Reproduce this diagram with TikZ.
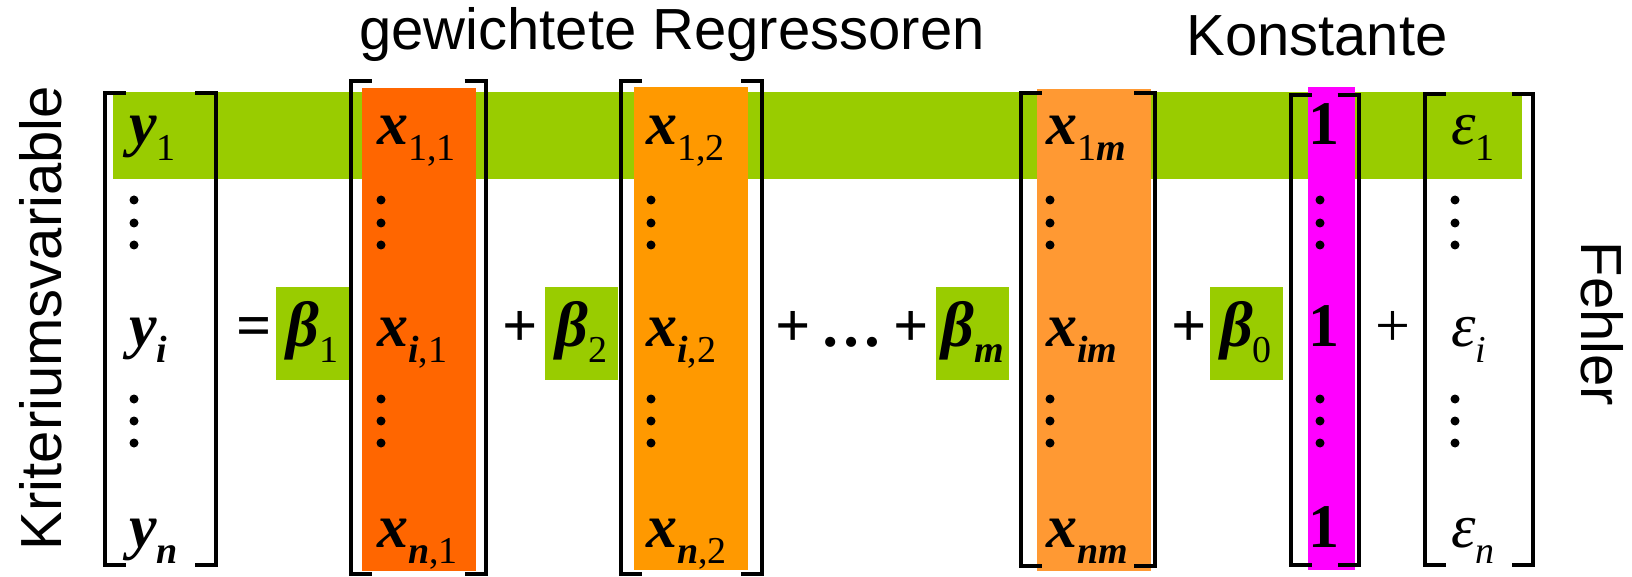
\documentclass[tikz,border=0pt]{standalone}
\usepackage{fontspec}
\setmainfont{Liberation Serif}
\newfontfamily\headfont{Liberation Sans}
\definecolor{rowgreen}{HTML}{99CC00}
\definecolor{regone}{HTML}{FF6600}
\definecolor{regtwo}{HTML}{FF9900}
\definecolor{regm}{HTML}{FF9933}
\definecolor{konstpink}{HTML}{FF00FF}
\newcommand{\bi}[1]{\textbf{\textit{#1}}}
\newcommand{\lowidx}[1]{\raisebox{-16pt}{\fontsize{38}{38}\selectfont #1}}
\tikzset{
  cell/.style={anchor=base west, inner sep=0pt, font=\fontsize{62}{62}\selectfont},
  op/.style={anchor=base, inner sep=0pt, font=\fontsize{62}{62}\selectfont\bfseries},
  thinop/.style={anchor=base, inner sep=0pt, font=\fontsize{62}{62}\selectfont},
  betabox/.style={anchor=base, fill=rowgreen, inner sep=0pt, minimum width=73pt,
    text height=59pt, text depth=34pt, font=\fontsize{64}{64}\selectfont},
  headtext/.style={anchor=base, inner sep=0pt, font=\headfont\fontsize{58}{58}\selectfont},
  bracketline/.style={line width=4pt}
}
\begin{document}
\begin{tikzpicture}[x=1pt,y=-1pt]
  \useasboundingbox (0,0) rectangle (1632,577);

  % erste Zeile und Spalten hinterlegen
  \fill[rowgreen] (113,92) rectangle (1522,179);
  \fill[regone] (362,88) rectangle (476,571);
  \fill[regtwo] (634,87) rectangle (748,570);
  \fill[regm] (1037,89) rectangle (1151,571);
  \fill[konstpink] (1308,87) rectangle (1355,570);

  % Klammern
  \foreach \l/\r/\t/\b in {104.5/216/93.5/564.5, 350.5/485.5/81.5/574,
      621/762/81.5/574, 1020.5/1155/93.5/565.5, 1290.5/1358.5/95/565, 1425/1533/94/565} {
    \draw[bracketline] (\l+21,\t) -| (\l,\b) -- (\l+21,\b);
    \draw[bracketline] (\r-21,\t) -| (\r,\b) -- (\r-21,\b);
  }

  % Punkte
  \foreach \cx in {134,381,651,1050,1320,1455}
    \foreach \cy in {200,223,245,399,421,443}
      \fill (\cx,\cy) circle (4.5pt);

  \node[headtext] (regr) at (672,50) {gewichtete Regressoren};
  \node[headtext] (konst) at (1317,56) {Konstante};
  \node[headtext, rotate=90] (krit) at (61,318) {Kriteriumsvariable};
  \node[headtext, rotate=-90] (fehler) at (1581,324) {Fehler};

  \node[cell] (y1) at (129,145) {\bi{y}\lowidx{1}};
  \node[cell] (yi) at (129,346) {\bi{y}\lowidx{\bi{i}}};
  \node[cell] (yn) at (129,547) {\bi{y}\lowidx{\bi{n}}};

  \node[op] (eq) at (254,346) {=};
  \node[betabox] (b1) at (312.5,346) {\bi{β}\lowidx{1}};

  \node[cell] (x11) at (377,145) {\bi{x}\lowidx{1,1}};
  \node[cell] (xi1) at (377,346) {\bi{x}\lowidx{\bi{i},1}};
  \node[cell] (xn1) at (377,547) {\bi{x}\lowidx{\bi{n},1}};

  \node[op] (p1) at (520,346) {+};
  \node[betabox] (b2) at (581.5,346) {\bi{β}\lowidx{2}};

  \node[cell] (x12) at (646,145) {\bi{x}\lowidx{1,2}};
  \node[cell] (xi2) at (646,346) {\bi{x}\lowidx{\bi{i},2}};
  \node[cell] (xn2) at (646,547) {\bi{x}\lowidx{\bi{n},2}};

  \node[op] (p2) at (852,346) {+\,…\,+};
  \node[betabox] (bm) at (972.5,346) {\bi{β}\lowidx{\bi{m}}};

  \node[cell] (x1m) at (1046,145) {\bi{x}\lowidx{1\bi{m}}};
  \node[cell] (xim) at (1046,346) {\bi{x}\lowidx{\bi{im}}};
  \node[cell] (xnm) at (1046,547) {\bi{x}\lowidx{\bi{nm}}};

  \node[op] (p3) at (1189,346) {+};
  \node[betabox] (b0) at (1246,346) {\bi{β}\lowidx{0}};

  \node[op] (k1) at (1324,145) {1};
  \node[op] (ki) at (1324,346) {1};
  \node[op] (kn) at (1324,547) {1};

  \node[thinop] (p4) at (1393,346) {+};

  \node[cell] (e1) at (1451,145) {\textit{ε}\lowidx{1}};
  \node[cell] (ei) at (1451,346) {\textit{ε}\lowidx{\textit{i}}};
  \node[cell] (en) at (1451,547) {\textit{ε}\lowidx{\textit{n}}};
\end{tikzpicture}
\end{document}
